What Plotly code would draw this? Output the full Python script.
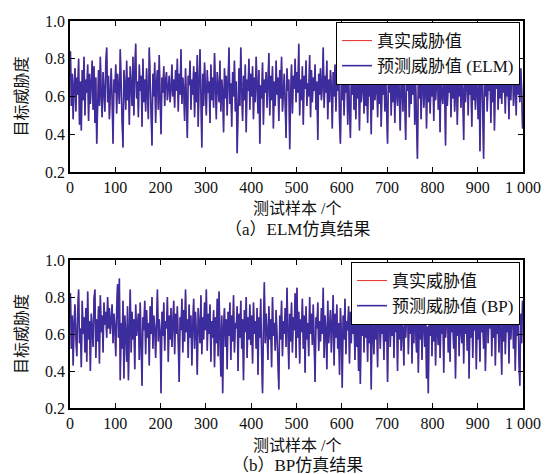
import plotly.graph_objects as go

# sample indices (every other test sample)
samples = list(range(1, 1001, 2))

elm_pred = [
    0.84, 0.55, 0.72, 0.48, 0.66, 0.75, 0.52, 0.70, 0.61, 0.80, 0.45, 0.68, 0.42, 0.74, 0.58, 0.81, 0.50, 0.69, 0.62, 0.77, 0.47, 0.72, 0.56, 0.65, 0.79,
    0.53, 0.76, 0.46, 0.70, 0.35, 0.66, 0.74, 0.55, 0.81, 0.60, 0.49, 0.73, 0.64, 0.52, 0.78, 0.86, 0.57, 0.71, 0.48, 0.67, 0.75, 0.58, 0.35, 0.69, 0.62,
    0.77, 0.51, 0.72, 0.64, 0.56, 0.85, 0.60, 0.47, 0.33, 0.74, 0.66, 0.53, 0.79, 0.58, 0.70, 0.45, 0.76, 0.62, 0.55, 0.81, 0.50, 0.73, 0.88, 0.59, 0.68,
    0.49, 0.77, 0.63, 0.71, 0.44, 0.80, 0.57, 0.69, 0.52, 0.75, 0.61, 0.48, 0.86, 0.65, 0.55, 0.34, 0.72, 0.60, 0.78, 0.46, 0.67, 0.74, 0.53, 0.82, 0.58,
    0.40, 0.70, 0.62, 0.76, 0.55, 0.68, 0.73, 0.58, 0.66, 0.71, 0.57, 0.64, 0.77, 0.60, 0.69, 0.54, 0.74, 0.63, 0.80, 0.52, 0.72, 0.61, 0.85, 0.56, 0.70,
    0.64, 0.47, 0.75, 0.58, 0.38, 0.71, 0.66, 0.79, 0.53, 0.69, 0.61, 0.76, 0.49, 0.73, 0.57, 0.82, 0.44, 0.67, 0.85, 0.60, 0.33, 0.72, 0.55, 0.78, 0.63,
    0.50, 0.74, 0.62, 0.68, 0.46, 0.77, 0.58, 0.70, 0.54, 0.83, 0.61, 0.48, 0.73, 0.65, 0.57, 0.79, 0.52, 0.69, 0.63, 0.41, 0.75, 0.59, 0.71, 0.50, 0.78,
    0.86, 0.56, 0.67, 0.44, 0.73, 0.60, 0.79, 0.52, 0.68, 0.30, 0.62, 0.75, 0.55, 0.86, 0.64, 0.47, 0.71, 0.58, 0.77, 0.41, 0.69, 0.63, 0.80, 0.53, 0.72,
    0.60, 0.76, 0.48, 0.70, 0.57, 0.81, 0.63, 0.51, 0.74, 0.35, 0.66, 0.59, 0.78, 0.45, 0.69, 0.62, 0.73, 0.54, 0.67, 0.83, 0.50, 0.71, 0.58, 0.76, 0.43,
    0.68, 0.55, 0.79, 0.61, 0.70, 0.47, 0.74, 0.59, 0.81, 0.52, 0.66, 0.72, 0.56, 0.38, 0.75, 0.63, 0.69, 0.32, 0.60, 0.77, 0.51, 0.71, 0.64, 0.80, 0.57,
    0.73, 0.62, 0.88, 0.50, 0.69, 0.58, 0.76, 0.45, 0.71, 0.64, 0.79, 0.55, 0.67, 0.60, 0.82, 0.49, 0.74, 0.57, 0.70, 0.63, 0.77, 0.53, 0.68, 0.37, 0.72,
    0.61, 0.75, 0.58, 0.66, 0.86, 0.54, 0.71, 0.62, 0.79, 0.48, 0.69, 0.57, 0.74, 0.65, 0.43, 0.73, 0.60, 0.77, 0.52, 0.68, 0.63, 0.80, 0.47, 0.35, 0.70,
    0.58, 0.74, 0.50, 0.67, 0.62, 0.76, 0.45, 0.70, 0.56, 0.38, 0.72, 0.61, 0.79, 0.53, 0.66, 0.48, 0.75, 0.59, 0.69, 0.42, 0.73, 0.57, 0.64, 0.78, 0.51,
    0.78, 0.55, 0.68, 0.46, 0.72, 0.60, 0.66, 0.40, 0.75, 0.53, 0.70, 0.58, 0.63, 0.77, 0.49, 0.69, 0.56, 0.74, 0.44, 0.67, 0.61, 0.76, 0.52, 0.71, 0.57,
    0.35, 0.73, 0.62, 0.79, 0.50, 0.68, 0.57, 0.75, 0.46, 0.71, 0.64, 0.55, 0.78, 0.60, 0.42, 0.70, 0.66, 0.52, 0.76, 0.58, 0.37, 0.72, 0.63, 0.80, 0.49,
    0.69, 0.56, 0.74, 0.61, 0.80, 0.45, 0.67, 0.52, 0.27, 0.71, 0.59, 0.77, 0.48, 0.65, 0.73, 0.54, 0.62, 0.79, 0.43, 0.70, 0.57, 0.75, 0.51, 0.68, 0.60,
    0.76, 0.47, 0.72, 0.58, 0.66, 0.79, 0.53, 0.69, 0.41, 0.74, 0.61, 0.56, 0.71, 0.64, 0.34, 0.80, 0.55, 0.68, 0.62, 0.75, 0.49, 0.70, 0.59, 0.77, 0.52,
    0.67, 0.73, 0.45, 0.69, 0.60, 0.78, 0.54, 0.71, 0.63, 0.37, 0.74, 0.57, 0.66, 0.79, 0.50, 0.72, 0.61, 0.68, 0.44, 0.76, 0.58, 0.70, 0.53, 0.75, 0.62,
    0.48, 0.70, 0.31, 0.66, 0.77, 0.55, 0.27, 0.72, 0.60, 0.74, 0.52, 0.68, 0.63, 0.79, 0.46, 0.71, 0.57, 0.75, 0.42, 0.69, 0.64, 0.78, 0.53, 0.67, 0.59,
    0.80, 0.56, 0.73, 0.62, 0.69, 0.51, 0.76, 0.60, 0.67, 0.48, 0.74, 0.58, 0.71, 0.79, 0.55, 0.66, 0.72, 0.50, 0.77, 0.61, 0.68, 0.57, 0.75, 0.64, 0.43,
]

bp_pred = [
    0.82, 0.52, 0.70, 0.43, 0.66, 0.76, 0.58, 0.48, 0.72, 0.84, 0.55, 0.63, 0.42, 0.78, 0.60, 0.69, 0.50, 0.74, 0.45, 0.83, 0.57, 0.67, 0.40, 0.71, 0.62,
    0.53, 0.79, 0.84, 0.47, 0.68, 0.56, 0.75, 0.44, 0.81, 0.61, 0.70, 0.50, 0.77, 0.65, 0.72, 0.58, 0.80, 0.63, 0.74, 0.60, 0.69, 0.76, 0.55, 0.71, 0.64,
    0.48, 0.73, 0.87, 0.58, 0.90, 0.35, 0.66, 0.52, 0.78, 0.36, 0.70, 0.61, 0.45, 0.75, 0.35, 0.63, 0.84, 0.50, 0.72, 0.57, 0.68, 0.41, 0.76, 0.59, 0.66,
    0.71, 0.46, 0.77, 0.55, 0.32, 0.69, 0.62, 0.78, 0.49, 0.73, 0.58, 0.66, 0.43, 0.75, 0.60, 0.80, 0.52, 0.70, 0.64, 0.47, 0.76, 0.84, 0.56, 0.68, 0.61,
    0.28, 0.72, 0.59, 0.77, 0.51, 0.67, 0.63, 0.80, 0.45, 0.70, 0.57, 0.74, 0.53, 0.66, 0.78, 0.49, 0.71, 0.60, 0.75, 0.55, 0.34, 0.69, 0.62, 0.79, 0.50,
    0.73, 0.56, 0.84, 0.61, 0.68, 0.47, 0.76, 0.58, 0.70, 0.43, 0.65, 0.79, 0.52, 0.72, 0.60, 0.38, 0.74, 0.63, 0.55, 0.81, 0.49, 0.69, 0.57, 0.77, 0.62,
    0.84, 0.51, 0.71, 0.60, 0.76, 0.45, 0.67, 0.58, 0.73, 0.42, 0.69, 0.55, 0.79, 0.48, 0.83, 0.62, 0.37, 0.70, 0.28, 0.64, 0.74, 0.53, 0.68, 0.41, 0.72,
    0.59, 0.77, 0.46, 0.70, 0.56, 0.81, 0.50, 0.66, 0.63, 0.75, 0.40, 0.71, 0.58, 0.78, 0.52, 0.68, 0.35, 0.73, 0.61, 0.80, 0.47, 0.69, 0.57, 0.76, 0.54,
    0.70, 0.44, 0.77, 0.60, 0.67, 0.52, 0.74, 0.38, 0.69, 0.58, 0.79, 0.49, 0.28, 0.63, 0.88, 0.55, 0.71, 0.61, 0.46, 0.75, 0.57, 0.68, 0.42, 0.80, 0.59,
    0.66, 0.51, 0.73, 0.62, 0.45, 0.30, 0.70, 0.57, 0.78, 0.48, 0.67, 0.60, 0.74, 0.53, 0.85, 0.63, 0.41, 0.71, 0.56, 0.77, 0.50, 0.69, 0.62, 0.82, 0.47,
    0.85, 0.58, 0.72, 0.44, 0.68, 0.61, 0.79, 0.52, 0.70, 0.39, 0.75, 0.57, 0.66, 0.48, 0.80, 0.60, 0.71, 0.54, 0.76, 0.45, 0.34, 0.69, 0.63, 0.77, 0.51,
    0.67, 0.56, 0.74, 0.60, 0.85, 0.47, 0.70, 0.62, 0.41, 0.78, 0.55, 0.68, 0.73, 0.50, 0.64, 0.81, 0.43, 0.71, 0.58, 0.76, 0.52, 0.66, 0.38, 0.74, 0.61,
    0.31, 0.70, 0.57, 0.79, 0.49, 0.67, 0.62, 0.75, 0.44, 0.72, 0.55, 0.80, 0.60, 0.68, 0.46, 0.73, 0.53, 0.77, 0.40, 0.66, 0.33, 0.71, 0.59, 0.82, 0.50,
    0.74, 0.58, 0.69, 0.45, 0.78, 0.55, 0.66, 0.30, 0.72, 0.61, 0.49, 0.76, 0.57, 0.70, 0.42, 0.81, 0.63, 0.52, 0.73, 0.60, 0.68, 0.46, 0.79, 0.56, 0.71,
    0.34, 0.65, 0.77, 0.53, 0.70, 0.59, 0.82, 0.47, 0.68, 0.61, 0.74, 0.40, 0.72, 0.57, 0.79, 0.51, 0.66, 0.63, 0.43, 0.75, 0.58, 0.69, 0.80, 0.49, 0.71,
    0.60, 0.76, 0.44, 0.68, 0.55, 0.81, 0.62, 0.50, 0.73, 0.39, 0.70, 0.57, 0.78, 0.46, 0.66, 0.71, 0.53, 0.75, 0.36, 0.64, 0.28, 0.72, 0.59, 0.80, 0.48,
    0.69, 0.56, 0.77, 0.43, 0.71, 0.62, 0.54, 0.79, 0.47, 0.68, 0.60, 0.75, 0.39, 0.73, 0.58, 0.66, 0.81, 0.50, 0.70, 0.45, 0.76, 0.61, 0.67, 0.52, 0.74,
    0.36, 0.71, 0.59, 0.78, 0.48, 0.69, 0.63, 0.55, 0.80, 0.44, 0.72, 0.60, 0.67, 0.51, 0.76, 0.36, 0.70, 0.58, 0.82, 0.47, 0.66, 0.62, 0.74, 0.41, 0.73,
    0.57, 0.68, 0.45, 0.77, 0.61, 0.70, 0.52, 0.79, 0.40, 0.66, 0.74, 0.55, 0.71, 0.63, 0.82, 0.48, 0.69, 0.58, 0.76, 0.43, 0.72, 0.60, 0.67, 0.50, 0.78,
    0.62, 0.38, 0.73, 0.56, 0.80, 0.49, 0.69, 0.61, 0.75, 0.44, 0.70, 0.57, 0.66, 0.79, 0.52, 0.72, 0.40, 0.68, 0.59, 0.76, 0.46, 0.32, 0.71, 0.55, 0.78,
]

# true threat values coincide with the predictions at this scale (red hidden under blue)
elm_true = elm_pred
bp_true = bp_pred

x_tickvals = [0, 100, 200, 300, 400, 500, 600, 700, 800, 900, 1000]
x_ticktext = ["0", "100", "200", "300", "400", "500", "600", "700", "800", "900", "1 000"]
y_tickvals = [0.2, 0.4, 0.6, 0.8, 1.0]
y_ticktext = ["0.2", "0.4", "0.6", "0.8", "1.0"]

FONT = "Liberation Serif, Times New Roman, Noto Sans CJK SC, serif"
TXT = "#111111"
RED = "#e8403a"
BLUE = "#3b2d9e"
W, H = 545, 474

fig = go.Figure()
fig.add_trace(go.Scatter(x=samples, y=elm_true, mode="lines", name="真实威胁值",
                         line=dict(color=RED, width=1.1), xaxis="x", yaxis="y", legend="legend"))
fig.add_trace(go.Scatter(x=samples, y=elm_pred, mode="lines", name="预测威胁值 (ELM)",
                         line=dict(color=BLUE, width=1.6), xaxis="x", yaxis="y", legend="legend"))
fig.add_trace(go.Scatter(x=samples, y=bp_true, mode="lines", name="真实威胁值",
                         line=dict(color=RED, width=1.1), xaxis="x2", yaxis="y2", legend="legend2"))
fig.add_trace(go.Scatter(x=samples, y=bp_pred, mode="lines", name="预测威胁值 (BP)",
                         line=dict(color=BLUE, width=1.6), xaxis="x2", yaxis="y2", legend="legend2"))

def px_x(p):
    return p / W

def px_y(p):
    return 1 - p / H

xdom = [px_x(70), px_x(523)]
axis_common = dict(showline=True, linecolor="black", linewidth=1.5, mirror="allticks",
                   ticks="inside", ticklen=5, tickwidth=1.3, tickcolor="black",
                   showgrid=False, zeroline=False, automargin=False,
                   tickfont=dict(family=FONT, size=16, color=TXT))

legend_common = dict(xanchor="right", yanchor="top", bgcolor="white", bordercolor="black",
                     borderwidth=1, font=dict(family=FONT, size=17, color=TXT), tracegroupgap=0,
                     itemwidth=30)

fig.update_layout(
    width=W, height=H,
    margin=dict(l=0, r=0, t=0, b=0, autoexpand=False),
    paper_bgcolor="white", plot_bgcolor="white",
    font=dict(family=FONT, color=TXT),
    xaxis=dict(domain=xdom, range=[0, 1000], anchor="y", tickvals=x_tickvals, ticktext=x_ticktext, **axis_common),
    yaxis=dict(domain=[px_y(172), px_y(21)], range=[0.2, 1.0], anchor="x", tickvals=y_tickvals, ticktext=y_ticktext, **axis_common),
    xaxis2=dict(domain=xdom, range=[0, 1000], anchor="y2", tickvals=x_tickvals, ticktext=x_ticktext, **axis_common),
    yaxis2=dict(domain=[px_y(408), px_y(260)], range=[0.2, 1.0], anchor="x2", tickvals=y_tickvals, ticktext=y_ticktext, **axis_common),
    legend=dict(x=px_x(520), y=px_y(22), **legend_common),
    legend2=dict(x=px_x(520), y=px_y(262), **legend_common),
    showlegend=True,
)

def label(text, xc, yc, size, angle=0):
    return dict(text=text, x=px_x(xc), y=px_y(yc), xref="paper", yref="paper",
                xanchor="center", yanchor="middle", showarrow=False, textangle=angle,
                font=dict(family=FONT, size=size, color=TXT))

ann = [
    label("目标威胁度", 21, (21 + 172) / 2, 16, -90),
    label("目标威胁度", 21, (260 + 408) / 2, 16, -90),
    label("测试样本 /个", 297, 208, 16),
    label("（a）ELM仿真结果", 297, 229, 17),
    label("测试样本 /个", 297, 445, 16),
    label("（b）BP仿真结果", 297, 465, 17),
]
fig.update_layout(annotations=ann)

fig.write_html("out.html", config={"displayModeBar": False})

# remove the browser's default page margin so the figure sits at the window's top-left corner
with open("out.html", "r", encoding="utf-8") as f:
    page = f.read()
page = page.replace("<head>", "<head><style>html,body{margin:0;padding:0;overflow:hidden;}</style>", 1)
with open("out.html", "w", encoding="utf-8") as f:
    f.write(page)
